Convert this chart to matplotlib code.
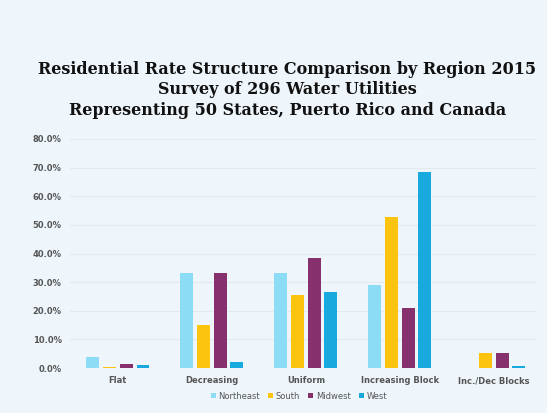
import numpy as np
import matplotlib.pyplot as plt
from matplotlib.ticker import FuncFormatter

categories = ['Flat', 'Decreasing', 'Uniform', 'Increasing Block', 'Inc./Dec Blocks']
regions = ['Northeast', 'South', 'Midwest', 'West']
northeast = [3.9, 33.2, 33.3, 29.0, 0.0]
south = [0.5, 15.0, 25.5, 52.7, 5.3]
midwest = [1.5, 33.2, 38.4, 20.9, 5.2]
west = [1.0, 2.2, 26.6, 68.6, 0.8]
colors = ['#8ddcf6', '#fcc40f', '#86306e', '#18a9de']

fig = plt.figure(figsize=(5.47, 4.13), dpi=100)
fig.patch.set_facecolor('#eef6fb')
ax = fig.add_axes([70 / 547, 1 - 368 / 413, (537 - 70) / 547, (368 - 139) / 413])
ax.set_facecolor('none')

x = np.arange(len(categories))
width = 0.138
step = 0.178
for i, (vals, name) in enumerate(zip([northeast, south, midwest, west], regions)):
    ax.bar(x + (i - 1.5) * step, vals, width, color=colors[i], label=name, zorder=3)

ax.set_ylim(0, 80)
ax.set_xlim(-0.51, 4.46)
ax.set_yticks(np.arange(0, 81, 10))
ax.yaxis.set_major_formatter(FuncFormatter(lambda v, p: f'{v:.1f}%'))
ax.set_xticks(x)
ax.set_xticklabels(categories)
ax.tick_params(length=0, labelsize=6, labelcolor='#555555', pad=6)
for lab in ax.get_xticklabels() + ax.get_yticklabels():
    lab.set_fontweight('bold')
ax.grid(axis='y', color='#e2e9ef', linewidth=0.8, zorder=0)
for s in ax.spines.values():
    s.set_visible(False)

fig.text(0.525, 1 - 90 / 413, 'Residential Rate Structure Comparison by Region 2015\n'
         'Survey of 296 Water Utilities\nRepresenting 50 States, Puerto Rico and Canada',
         ha='center', va='center', fontsize=11.5, fontweight='bold', family='DejaVu Serif',
         color='#111111', linespacing=1.27)

ax.legend(loc='upper center', bbox_to_anchor=(0.49, -0.07), ncol=4, frameon=False,
          fontsize=6, handlelength=0.6, handleheight=0.6, handletextpad=0.3,
          columnspacing=1.0, labelcolor='#555555')

fig.savefig('out.png', dpi=100, facecolor=fig.get_facecolor())
